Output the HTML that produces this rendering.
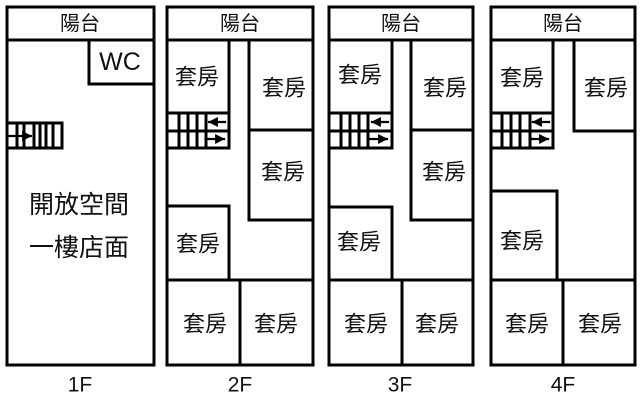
<!DOCTYPE html>
<html><head><meta charset="utf-8"><style>
html,body{margin:0;padding:0;background:#fff;}
svg{display:block;}
text{font-family:"Liberation Sans","Noto Sans CJK TC",sans-serif;fill:#111;}
</style></head><body>
<svg width="640" height="402" viewBox="0 0 640 402" xmlns="http://www.w3.org/2000/svg">
<defs>
<marker id="ah" viewBox="0 0 10 10" refX="9" refY="5" markerWidth="4.5" markerHeight="4.5" orient="auto"><path d="M0,0 L10,5 L0,10 z" fill="#000"/></marker>
</defs>
<g stroke="#000" stroke-width="3" fill="none" stroke-linecap="square">
<!-- 1F -->
<rect x="7" y="7" width="147" height="358"/>
<line x1="7" y1="40" x2="154" y2="40"/>
<polyline points="89,40 89,84 154,84"/>
<rect x="7" y="123" width="55" height="25"/>
<g stroke-width="3">
<line x1="17" y1="123" x2="17" y2="148"/>
<line x1="24" y1="123" x2="24" y2="148"/>
<line x1="34" y1="123" x2="34" y2="148"/>
<line x1="40" y1="123" x2="40" y2="148"/>
<line x1="46" y1="123" x2="46" y2="148"/>
<line x1="53" y1="123" x2="53" y2="148"/>
</g>
<line x1="8" y1="136" x2="31" y2="136" stroke-width="2.2" marker-end="url(#ah)"/>

<!-- 2F -->
<rect x="167" y="7" width="146" height="358"/>
<line x1="167" y1="40" x2="313" y2="40"/>
<line x1="229" y1="40" x2="229" y2="148"/>
<rect x="167" y="113" width="62" height="35"/>
<line x1="167" y1="131" x2="229" y2="131"/>
<g stroke-width="3">
<line x1="179" y1="113" x2="179" y2="148"/>
<line x1="188" y1="113" x2="188" y2="148"/>
<line x1="197" y1="113" x2="197" y2="148"/>
<line x1="206" y1="113" x2="206" y2="148"/>
</g>
<line x1="225" y1="122" x2="209" y2="122" stroke-width="2.2" marker-end="url(#ah)"/>
<line x1="207" y1="139" x2="224" y2="139" stroke-width="2.2" marker-end="url(#ah)"/>
<line x1="249" y1="40" x2="249" y2="220"/>
<line x1="249" y1="130" x2="313" y2="130"/>
<line x1="249" y1="220" x2="313" y2="220"/>
<polyline points="167,206 229,206 229,280"/>
<line x1="167" y1="280" x2="313" y2="280"/>
<line x1="240" y1="280" x2="240" y2="365"/>

<!-- 3F -->
<rect x="329" y="7" width="144" height="358"/>
<line x1="329" y1="40" x2="473" y2="40"/>
<line x1="392" y1="40" x2="392" y2="148"/>
<rect x="329" y="113" width="63" height="35"/>
<line x1="329" y1="131" x2="392" y2="131"/>
<g stroke-width="3">
<line x1="341" y1="113" x2="341" y2="148"/>
<line x1="350" y1="113" x2="350" y2="148"/>
<line x1="359" y1="113" x2="359" y2="148"/>
<line x1="368" y1="113" x2="368" y2="148"/>
</g>
<line x1="388" y1="122" x2="372" y2="122" stroke-width="2.2" marker-end="url(#ah)"/>
<line x1="370" y1="139" x2="387" y2="139" stroke-width="2.2" marker-end="url(#ah)"/>
<line x1="411" y1="40" x2="411" y2="220"/>
<line x1="411" y1="130" x2="473" y2="130"/>
<line x1="411" y1="220" x2="473" y2="220"/>
<polyline points="329,207 392,207 392,280"/>
<line x1="329" y1="280" x2="473" y2="280"/>
<line x1="402" y1="280" x2="402" y2="365"/>

<!-- 4F -->
<rect x="491" y="7" width="144" height="358"/>
<line x1="491" y1="40" x2="635" y2="40"/>
<line x1="553" y1="40" x2="553" y2="148"/>
<rect x="491" y="113" width="62" height="35"/>
<line x1="491" y1="131" x2="553" y2="131"/>
<g stroke-width="3">
<line x1="502" y1="113" x2="502" y2="148"/>
<line x1="511" y1="113" x2="511" y2="148"/>
<line x1="520" y1="113" x2="520" y2="148"/>
<line x1="530" y1="113" x2="530" y2="148"/>
</g>
<line x1="549" y1="122" x2="533" y2="122" stroke-width="2.2" marker-end="url(#ah)"/>
<line x1="531" y1="139" x2="548" y2="139" stroke-width="2.2" marker-end="url(#ah)"/>
<polyline points="574,40 574,131 635,131"/>
<polyline points="491,191 557,191 557,280"/>
<line x1="491" y1="280" x2="635" y2="280"/>
<line x1="563" y1="280" x2="563" y2="365"/>
</g>

<g text-anchor="middle" dominant-baseline="central">
<!-- 1F -->
<text x="80" y="24" font-size="20">陽台</text>
<text x="120" y="62" font-size="25">WC</text>
<text x="79" y="205" font-size="25">開放空間</text>
<text x="79" y="248" font-size="25">一樓店面</text>
<text x="80" y="385" font-size="21">1F</text>
<!-- 2F -->
<text x="240" y="24" font-size="20">陽台</text>
<text x="197" y="77" font-size="22">套房</text>
<text x="284" y="88" font-size="22">套房</text>
<text x="283" y="172" font-size="22">套房</text>
<text x="198" y="244" font-size="22">套房</text>
<text x="205" y="324" font-size="22">套房</text>
<text x="276" y="324" font-size="22">套房</text>
<text x="240" y="385" font-size="21">2F</text>
<!-- 3F -->
<text x="401" y="24" font-size="20">陽台</text>
<text x="360" y="75" font-size="22">套房</text>
<text x="445" y="88" font-size="22">套房</text>
<text x="444" y="172" font-size="22">套房</text>
<text x="359" y="242" font-size="22">套房</text>
<text x="366" y="324" font-size="22">套房</text>
<text x="437" y="324" font-size="22">套房</text>
<text x="400" y="385" font-size="21">3F</text>
<!-- 4F -->
<text x="563" y="24" font-size="20">陽台</text>
<text x="522" y="78" font-size="22">套房</text>
<text x="606" y="88" font-size="22">套房</text>
<text x="522" y="241" font-size="22">套房</text>
<text x="527" y="324" font-size="22">套房</text>
<text x="600" y="324" font-size="22">套房</text>
<text x="563" y="385" font-size="21">4F</text>
</g>
</svg>
</body></html>
